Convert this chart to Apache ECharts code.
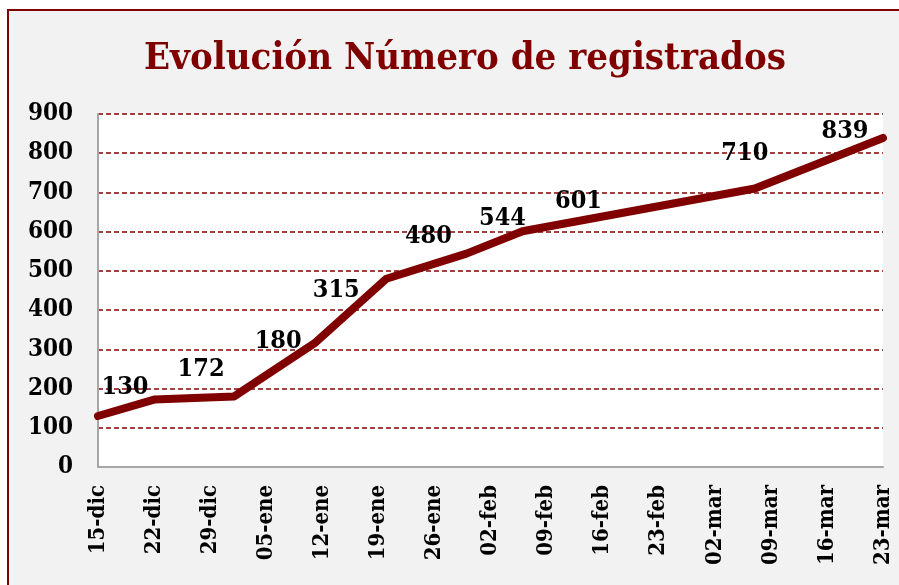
<!DOCTYPE html>
<html>
<head>
<meta charset="utf-8">
<script src="https://cdn.jsdelivr.net/npm/echarts@6/dist/echarts.min.js"></script>
<style>
    html, body { margin: 0; padding: 0; background: #fff; }
    #chart { width: 899px; height: 585px; }
</style>
</head>
<body>
<div id="chart"></div>
<script>
// fechas de cada registro y valores
const fechas = ['2014-12-15', '2014-12-22', '2015-01-01', '2015-01-11', '2015-01-20',
    '2015-01-30', '2015-02-06', '2015-03-07', '2015-03-23'];
const registrados = [130, 172, 180, 315, 480, 544, 601, 710, 839];
// etiquetas del eje x, una por semana desde 15-dic
const semanas = ['15-dic', '22-dic', '29-dic', '05-ene', '12-ene', '19-ene', '26-ene', '02-feb',
    '09-feb', '16-feb', '23-feb', '02-mar', '09-mar', '16-mar', '23-mar'];
// desplazamiento de cada etiqueta de dato (px)
const offsetsEtiqueta = [[27, -29], [47, -30], [44, -55], [22, -53], [42, -42],
    [36, -35], [56, -30], [-10, -35], [-38, -6]];

const inicio = Date.UTC(2014, 11, 15);
const dia = 86400000;

const serif = "'DejaVu Serif Condensed', 'DejaVu Serif'";
const rojo = '#800000';

let datos = [];
for (let i = 0; i < fechas.length; i++) {
    let p = fechas[i].split('-');
    let d = (Date.UTC(+p[0], +p[1] - 1, +p[2]) - inicio) / dia;
    datos.push({
        value: [d, registrados[i]],
        label: { offset: offsetsEtiqueta[i] }
    });
}

let chart = echarts.init(document.getElementById('chart'));
let option = {
    animation: false,
    backgroundColor: '#fff',
    graphic: [{
        type: 'rect',
        shape: { x: 8, y: 10, width: 900, height: 590 },
        style: { fill: '#f2f2f2', stroke: rojo, lineWidth: 2 },
        z: -10
    }],
    title: {
        text: 'Evolución Número de registrados',
        left: 460,
        textAlign: 'center',
        top: 35,
        textStyle: {
            fontFamily: serif,
            fontWeight: 'bold',
            fontSize: 38,
            color: rojo
        }
    },
    grid: {
        left: 98,
        right: 16,
        top: 114,
        bottom: 118,
        show: true,
        backgroundColor: '#fff',
        borderWidth: 0,
        outerBoundsMode: 'none'
    },
    xAxis: {
        type: 'value',
        min: 0,
        max: 98,
        interval: 7,
        splitLine: { show: false },
        axisTick: { show: false },
        axisLine: { show: true, lineStyle: { color: '#a6a6a6', width: 2 } },
        axisLabel: {
            rotate: 90,
            margin: 18,
            color: '#000',
            fontFamily: serif,
            fontWeight: 'bold',
            fontSize: 22,
            formatter: function (v) { return semanas[Math.round(v / 7)]; }
        }
    },
    yAxis: {
        type: 'value',
        min: 0,
        max: 900,
        interval: 100,
        axisTick: { show: false },
        axisLine: { show: true, lineStyle: { color: '#a6a6a6', width: 2 } },
        splitLine: {
            show: true,
            lineStyle: { color: '#8b0000', type: [5, 3], width: 1.5 }
        },
        axisLabel: {
            margin: 25,
            color: '#000',
            fontFamily: serif,
            fontWeight: 'bold',
            fontSize: 24
        }
    },
    series: [{
        type: 'line',
        data: datos,
        symbol: 'circle',
        symbolSize: 2,
        showSymbol: true,
        itemStyle: { color: rojo },
        lineStyle: { color: rojo, width: 8, cap: 'round', join: 'round' },
        label: {
            show: true,
            position: 'inside',
            color: '#000',
            fontFamily: serif,
            fontWeight: 'bold',
            fontSize: 25
        }
    }]
};
chart.setOption(option);
</script>
</body>
</html>
